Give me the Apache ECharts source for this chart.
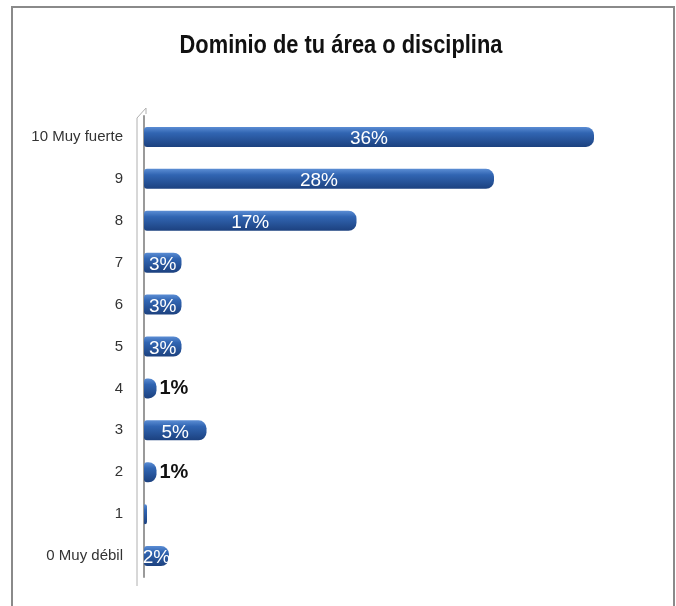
<!DOCTYPE html>
<html>
<head>
<meta charset="utf-8">
<script src="https://cdn.jsdelivr.net/npm/echarts@6/dist/echarts.min.js"></script>
<style>
  html, body { margin: 0; padding: 0; background: #fff; }
  #chart { width: 676px; height: 606px; }
</style>
</head>
<body>
<div id="chart"></div>
<script>
const titleText = 'Dominio de tu área o disciplina'
// top to bottom as in the picture
const categories = ['10 Muy fuerte', '9', '8', '7', '6', '5', '4', '3', '2', '1', '0 Muy débil']
const values = [36, 28, 17, 3, 3, 3, 1, 5, 1, 0, 2]

const font = '"Liberation Sans", Arial, sans-serif'

const barColor = new echarts.graphic.LinearGradient(0, 0, 0, 1, [
  { offset: 0, color: '#5b8dd4' },
  { offset: 0.3, color: '#3165b2' },
  { offset: 1, color: '#1c417f' }
])

// small values get their label outside the bar
const seriesData = values.map(v => ({
  value: v,
  label: v === 1
    ? { position: 'right', color: '#111', fontWeight: 'bold', fontSize: 20, distance: 3 }
    : { position: 'inside', color: '#fff', offset: [0, 2] }
}))

const chart = echarts.init(document.getElementById('chart'))
chart.setOption({
  backgroundColor: '#fff',
  graphic: [
    {
      type: 'rect',
      shape: { x: 12, y: 7, width: 662, height: 620 },
      style: { fill: 'none', stroke: '#8a8a8a', lineWidth: 2 },
      silent: true
    },
    {
      // condensed title, like the original narrow font
      type: 'text',
      x: 341,
      y: 46,
      scaleX: 0.84,
      style: {
        text: titleText,
        font: 'bold 26px ' + font,
        fill: '#111',
        align: 'center',
        verticalAlign: 'middle'
      }
    },
    {
      // thin back wall of the 3D chart
      type: 'line',
      shape: { x1: 137, y1: 118, x2: 137, y2: 586 },
      style: { stroke: '#b0b0b0', lineWidth: 1 },
      silent: true
    },
    {
      type: 'polyline',
      shape: { points: [[137, 118], [146, 108], [146, 114]] },
      style: { stroke: '#b0b0b0', lineWidth: 1, fill: 'none' },
      silent: true
    }
  ],
  grid: { left: 144, top: 116, right: 32, bottom: 29, containLabel: false },
  xAxis: {
    type: 'value',
    min: 0,
    max: 40,
    show: false
  },
  yAxis: {
    type: 'category',
    inverse: true,
    data: categories,
    axisLine: { show: true, lineStyle: { color: '#9a9a9a', width: 2 } },
    axisTick: { show: false },
    axisLabel: { fontFamily: font, fontSize: 15, color: '#333', margin: 21 }
  },
  series: [{
    type: 'bar',
    data: seriesData,
    barWidth: 20,
    barMinHeight: 3,
    itemStyle: { color: barColor, borderRadius: [3, 8, 8, 3] },
    label: {
      show: true,
      fontFamily: font,
      fontSize: 19,
      formatter: p => (p.value > 0 ? p.value + '%' : '')
    }
  }]
})
</script>
</body>
</html>
